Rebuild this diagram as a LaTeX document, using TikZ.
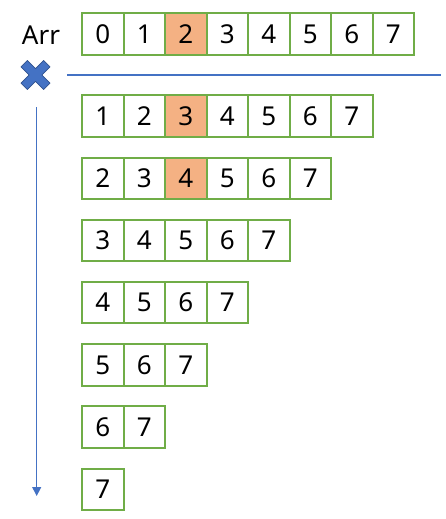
\documentclass[tikz,border=0pt]{standalone}
\usepackage{fontspec}
\setmainfont{Noto Sans}
\usetikzlibrary{arrows.meta}
\definecolor{cellgreen}{HTML}{70AD47}
\definecolor{cellorange}{HTML}{F4B183}
\definecolor{lineblue}{HTML}{4472C4}
\definecolor{xblue}{HTML}{4472C4}
\definecolor{xedge}{HTML}{2F528F}
\begin{document}
\begin{tikzpicture}[x=1pt,y=-1pt,
  cell/.style={draw=cellgreen,line width=2pt,minimum width=41.5pt,minimum height=41.5pt,inner sep=0pt,outer sep=0pt,font=\fontsize{26}{30}\selectfont},
  hl/.style={cell,fill=cellorange}]
\useasboundingbox (0,0) rectangle (445,519);
% Arr label
\node[anchor=base,font=\fontsize{26}{30}\selectfont,inner sep=0pt] (arr) at (41,45) {Arr};
% top row
\foreach \v [count=\i from 0] in {0,...,7}{
  \ifnum\i=2
    \node[hl] (t\i) at (102.75+41.5*\i,34) {\v};
  \else
    \node[cell] (t\i) at (102.75+41.5*\i,34) {\v};
  \fi
}
% separator line
\coordinate (lA) at (67,75);
\coordinate (lB) at (441,75);
\draw[lineblue,line width=1.5pt] (lA) -- (lB);
% X mark
\node[inner sep=0pt] (xm) at (35.5,75) {};
\draw[xedge,fill=xblue,line width=0.8pt,line join=round,rotate around={45:(35.5,75)}]
  (31,59) -- (40,59) -- (40,70.5) -- (51.5,70.5) -- (51.5,79.5) -- (40,79.5) -- (40,91) -- (31,91) -- (31,79.5) -- (19.5,79.5) -- (19.5,70.5) -- (31,70.5) -- cycle;
% arrow
\coordinate (aA) at (36.7,107);
\coordinate (aB) at (36.7,496);
\draw[lineblue,line width=1pt,-{Triangle[length=9pt,width=9pt]}] (aA) -- (aB);
% rows
\foreach \r/\s/\y in {1/1/116,2/2/178.5,3/3/240.5,4/4/302.5,5/5/365,6/6/427,7/7/489.5}{
  \foreach \v [count=\j from 0] in {\s,...,7}{
    \pgfmathtruncatemacro{\hv}{\r<3 ? (\j==2 ? 1 : 0) : 0}
    \ifnum\hv=1
      \node[hl] (r\r c\j) at (102.75+41.5*\j,\y) {\v};
    \else
      \node[cell] (r\r c\j) at (102.75+41.5*\j,\y) {\v};
    \fi
  }
}
\end{tikzpicture}
\end{document}
